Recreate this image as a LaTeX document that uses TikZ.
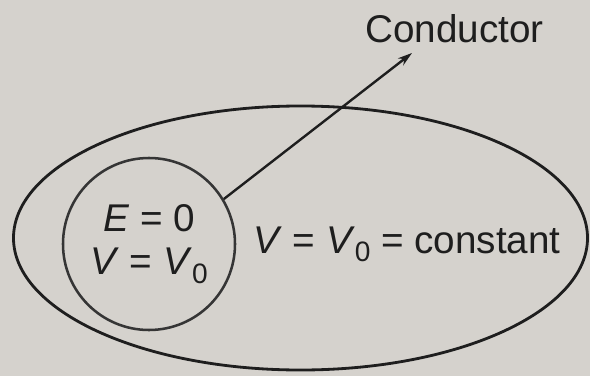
\documentclass[tikz,border=0pt]{standalone}
\usepackage{fontspec}
\setmainfont{Liberation Sans}
\usetikzlibrary{positioning, arrows.meta, shapes.geometric}
\definecolor{paper}{HTML}{D5D2CD}
\definecolor{ink}{HTML}{1E1E1E}
\tikzset{
  conductor/.style={draw=ink, line width=2pt, ellipse, minimum width=143.5mm, minimum height=66mm, inner sep=0pt},
  cavity/.style={draw=ink!90, line width=1.8pt, circle, minimum size=43mm, align=center, inner sep=0pt, text=ink, font=\fontsize{27.5}{31}\selectfont},
  textlabel/.style={text=ink, inner sep=0pt, font=\fontsize{27.5}{33}\selectfont},
  pointer/.style={-{Stealth[length=3.6mm, width=2.2mm]}, line width=1.7pt, draw=ink},
}
\newcommand{\itv}{\textit{V}}
\newcommand{\subnull}{\raisebox{-0.22em}{\fontsize{20}{20}\selectfont 0}}

\begin{document}
\begin{tikzpicture}[x=0.25mm, y=-0.25mm]
  \fill[paper] (0,0) rectangle (590,376);
  \node[conductor] (body) at (300.5,238) {};
  \node[cavity] (cavity) at (149,244) {\textit{E} = 0\\\itv{} = \itv\subnull};
  \node[textlabel, anchor=base west] (potential) at (253,253) {\itv{} = \itv\subnull{} = constant};
  \node[textlabel, anchor=base west] (name) at (365,43) {Conductor};
  \coordinate (tip) at (412,53);
  \draw[pointer] (cavity.31) -- (tip);
\end{tikzpicture}
\end{document}
